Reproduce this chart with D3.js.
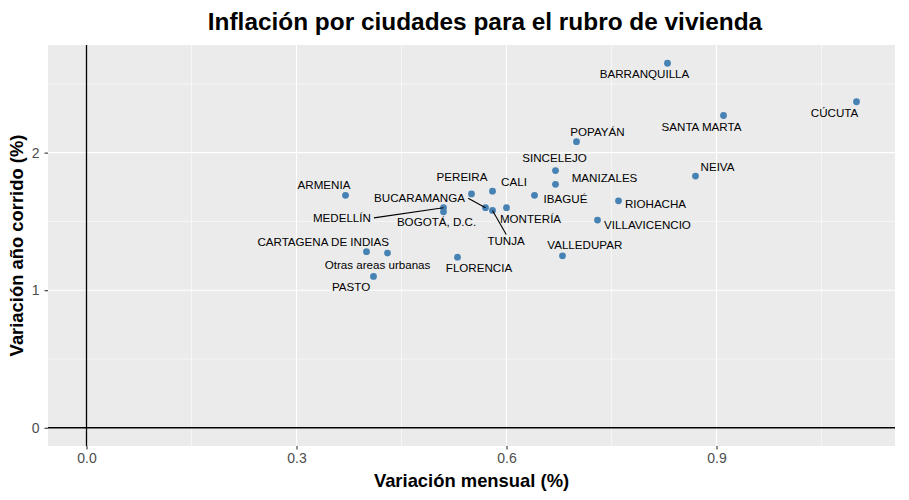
<!DOCTYPE html>
<html>
<head>
<meta charset="utf-8">
<script src="https://cdn.jsdelivr.net/npm/d3@7"></script>
<style>
  body { margin: 0; background: #fff; }
  text { font-family: "Liberation Sans", Arial, Helvetica, sans-serif; }
</style>
</head>
<body>
<svg id="chart" width="909" height="500"></svg>
<script>
// ciudades y variaciones (%)
const ciudades = ["BARRANQUILLA", "CÚCUTA", "SANTA MARTA", "POPAYÁN", "SINCELEJO", "NEIVA",
  "MANIZALES", "CALI", "PEREIRA", "ARMENIA", "IBAGUÉ", "RIOHACHA", "MONTERÍA", "BUCARAMANGA",
  "TUNJA", "MEDELLÍN", "BOGOTÁ, D.C.", "VILLAVICENCIO", "CARTAGENA DE INDIAS",
  "Otras areas urbanas", "FLORENCIA", "VALLEDUPAR", "PASTO"];
const mensual = [0.83, 1.10, 0.91, 0.70, 0.67, 0.87, 0.67, 0.58, 0.55, 0.37, 0.64, 0.76, 0.60, 0.57,
  0.58, 0.51, 0.51, 0.73, 0.40, 0.43, 0.53, 0.68, 0.41];
const anual = [2.65, 2.37, 2.27, 2.08, 1.87, 1.83, 1.77, 1.72, 1.70, 1.69, 1.69, 1.65, 1.60, 1.60,
  1.58, 1.60, 1.57, 1.51, 1.28, 1.27, 1.24, 1.25, 1.10];
const xTicks = [0, 0.3, 0.6, 0.9];
const yTicks = [0, 1, 2];

// posiciones de las etiquetas (repel), en px respecto al punto
const labelPos = {
  "BARRANQUILLA": [-23, 11], "CÚCUTA": [-22, 11], "SANTA MARTA": [-22, 11],
  "POPAYÁN": [21, -10], "SINCELEJO": [-1, -13], "NEIVA": [22, -9], "MANIZALES": [49, -6.5],
  "CALI": [21.5, -9], "PEREIRA": [-9.5, -17.5], "ARMENIA": [-21.5, -10], "IBAGUÉ": [31, 3.5],
  "RIOHACHA": [37, 3], "MONTERÍA": [24, 11.3], "BUCARAMANGA": [-66, -9.5, true],
  "TUNJA": [13.6, 30, true], "MEDELLÍN": [-101.6, 10, true], "BOGOTÁ, D.C.": [-7, 10],
  "VILLAVICENCIO": [50, 4.3], "CARTAGENA DE INDIAS": [-43.3, -10.3],
  "Otras areas urbanas": [-10, 11.7], "FLORENCIA": [21.5, 10.6], "VALLEDUPAR": [22.3, -11],
  "PASTO": [-22.4, 10.3]
};

const data = ciudades.map((c, i) => ({ ciudad: c, x: mensual[i], y: anual[i] }));

const svg = d3.select("#chart");
const pLeft = 48, pRight = 895, pTop = 45, pBottom = 446;

const xExt = [0, d3.max(mensual)];
const yExt = [0, d3.max(anual)];
const xPad = (xExt[1] - xExt[0]) * 0.05;
const yPad = (yExt[1] - yExt[0]) * 0.05;

const x = d3.scaleLinear().domain([xExt[0] - xPad, xExt[1] + xPad]).range([pLeft, pRight]);
const y = d3.scaleLinear().domain([yExt[0] - yPad, yExt[1] + yPad]).range([pBottom, pTop]);

// panel
svg.append("rect")
  .attr("x", pLeft).attr("y", pTop)
  .attr("width", pRight - pLeft).attr("height", pBottom - pTop)
  .attr("fill", "#EBEBEB");

const xMinor = [0.15, 0.45, 0.75, 1.05];
const yMinor = [0.5, 1.5, 2.5];

const grid = svg.append("g");
grid.selectAll(".xmin").data(xMinor).join("line")
  .attr("class", "xmin")
  .attr("x1", d => x(d)).attr("x2", d => x(d)).attr("y1", pTop).attr("y2", pBottom)
  .attr("stroke", "#fff").attr("stroke-width", 0.55);
grid.selectAll(".ymin").data(yMinor).join("line")
  .attr("class", "ymin")
  .attr("x1", pLeft).attr("x2", pRight).attr("y1", d => y(d)).attr("y2", d => y(d))
  .attr("stroke", "#fff").attr("stroke-width", 0.55);
grid.selectAll(".xmaj").data(xTicks).join("line")
  .attr("class", "xmaj")
  .attr("x1", d => x(d)).attr("x2", d => x(d)).attr("y1", pTop).attr("y2", pBottom)
  .attr("stroke", "#fff").attr("stroke-width", 1.1);
grid.selectAll(".ymaj").data(yTicks).join("line")
  .attr("class", "ymaj")
  .attr("x1", pLeft).attr("x2", pRight).attr("y1", d => y(d)).attr("y2", d => y(d))
  .attr("stroke", "#fff").attr("stroke-width", 1.1);

// ejes en cero
svg.append("line")
  .attr("x1", x(0)).attr("x2", x(0)).attr("y1", pTop).attr("y2", pBottom)
  .attr("stroke", "#000").attr("stroke-width", 1.3);
svg.append("line")
  .attr("x1", pLeft).attr("x2", pRight).attr("y1", y(0)).attr("y2", y(0))
  .attr("stroke", "#000").attr("stroke-width", 1.3);

// ejes
const xAxis = svg.append("g")
  .attr("transform", `translate(0,${pBottom})`)
  .call(d3.axisBottom(x).tickValues(xTicks).tickFormat(d3.format(".1f")).tickSize(3.5).tickPadding(4));
const yAxis = svg.append("g")
  .attr("transform", `translate(${pLeft},0)`)
  .call(d3.axisLeft(y).tickValues(yTicks).tickFormat(d3.format("d")).tickSize(3.5).tickPadding(5));

[xAxis, yAxis].forEach(a => {
  a.select(".domain").remove();
  a.selectAll(".tick line").attr("stroke", "#333").attr("stroke-width", 1.1);
  a.selectAll(".tick text")
    .attr("fill", "#4D4D4D")
    .attr("font-size", 14)
    .attr("font-family", "'Liberation Sans', Arial, sans-serif");
});

// puntos
svg.append("g").selectAll("circle").data(data).join("circle")
  .attr("cx", d => x(d.x))
  .attr("cy", d => y(d.y))
  .attr("r", 3.4)
  .attr("fill", "steelblue");

// etiquetas
const labels = svg.append("g");
data.forEach(d => {
  const p = labelPos[d.ciudad];
  const px = x(d.x), py = y(d.y);
  const t = labels.append("text")
    .attr("x", px + p[0])
    .attr("y", py + p[1])
    .attr("dy", "0.36em")
    .attr("text-anchor", "middle")
    .attr("font-size", 11.6)
    .attr("fill", "#000")
    .text(d.ciudad);
  if (p[2]) {
    // segmento al punto medio del lado más cercano de la caja
    const b = t.node().getBBox();
    const pad = 3;
    const x0 = b.x - pad, x1 = b.x + b.width + pad;
    const y0 = b.y + 1, y1 = b.y + b.height;
    const cx = (x0 + x1) / 2, cy = (y0 + y1) / 2;
    const cands = [[cx, y0], [cx, y1], [x0, cy], [x1, cy]];
    const best = d3.least(cands, c => (c[0] - px) ** 2 + (c[1] - py) ** 2);
    labels.append("line")
      .attr("x1", px).attr("y1", py)
      .attr("x2", best[0]).attr("y2", best[1])
      .attr("stroke", "#000").attr("stroke-width", 1.1);
  }
});

// títulos
svg.append("text")
  .attr("x", 485).attr("y", 30)
  .attr("text-anchor", "middle")
  .attr("font-weight", "bold")
  .attr("font-size", 24.4)
  .text("Inflación por ciudades para el rubro de vivienda");

svg.append("text")
  .attr("x", (pLeft + pRight) / 2).attr("y", 480)
  .attr("dy", "0.36em")
  .attr("text-anchor", "middle")
  .attr("font-weight", "bold")
  .attr("font-size", 18.4)
  .text("Variación mensual (%)");

svg.append("text")
  .attr("transform", `translate(16,${(pTop + pBottom) / 2}) rotate(-90)`)
  .attr("dy", "0.36em")
  .attr("text-anchor", "middle")
  .attr("font-weight", "bold")
  .attr("font-size", 18.4)
  .text("Variación año corrido (%)");
</script>
</body>
</html>
